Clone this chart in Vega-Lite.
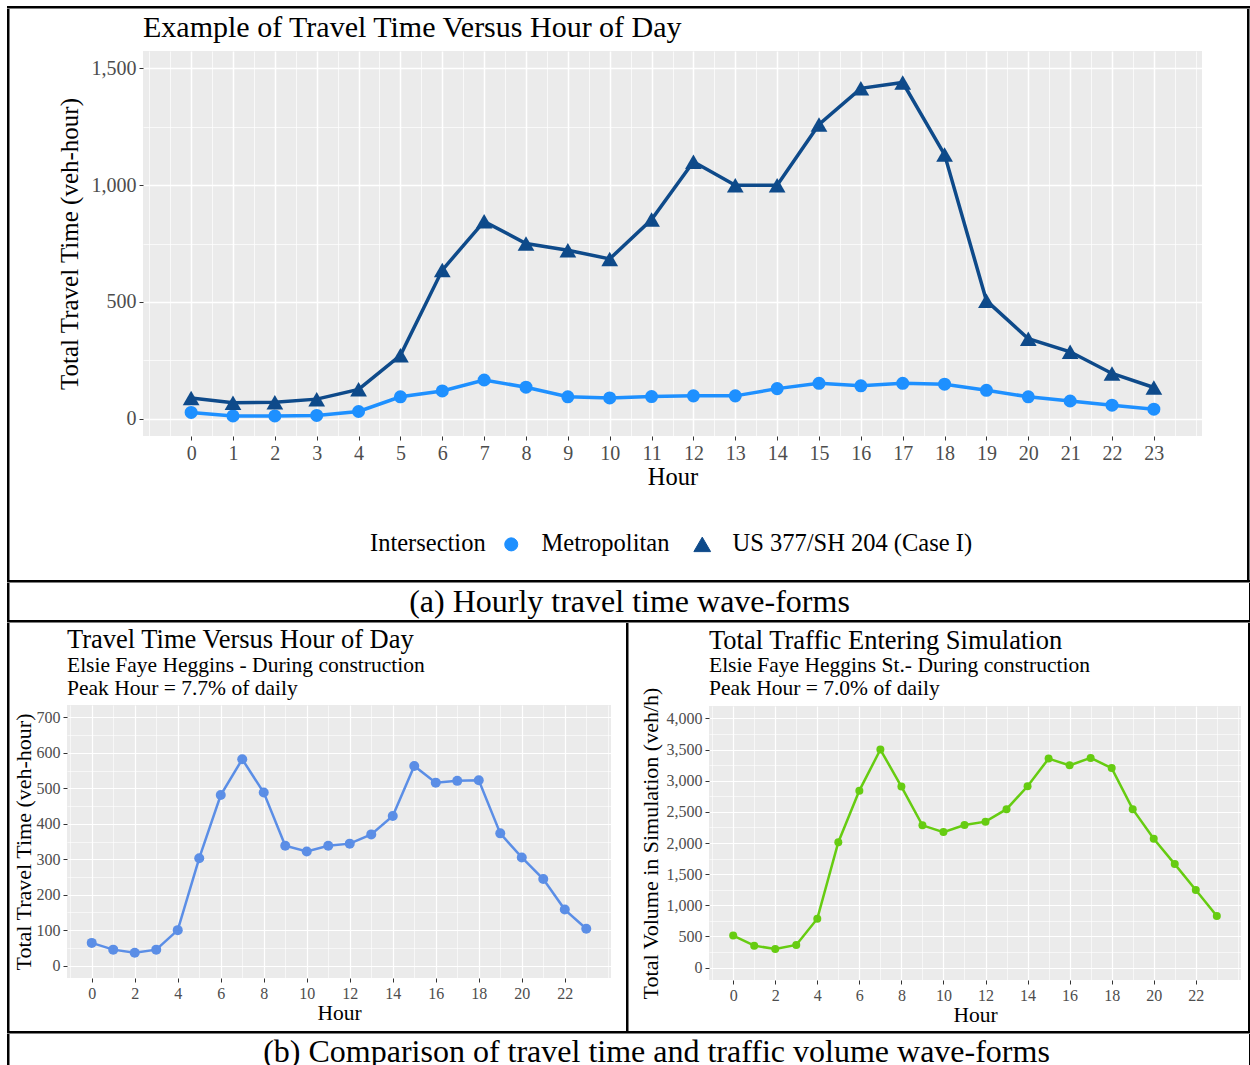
{
  "$schema": "https://vega.github.io/schema/vega-lite/v6.json",
  "padding": {"left": 7, "top": 6, "right": 0, "bottom": 0},
  "autosize": {"type": "pad"},
  "background": "white",
  "spacing": 0,
  "config": {
    "font": "Liberation Serif",
    "view": {"fill": "#EBEBEB", "stroke": null},
    "axis": {"domain": false, "gridColor": "white", "labelColor": "#4D4D4D", "tickColor": "#333333", "titleColor": "black", "titleFontWeight": "normal", "labelFont": "Liberation Serif", "titleFont": "Liberation Serif", "tickSize": 4, "labelOverlap": false, "labelFlush": false, "labelBound": false},
    "title": {"font": "Liberation Serif", "fontWeight": "normal", "color": "black", "subtitleColor": "black", "subtitleFont": "Liberation Serif", "anchor": "start", "frame": "group"},
    "concat": {"spacing": 0}
  },
  "datasets": {
    "blank": [],
    "top": [
      {"hour": 0, "tt": 26, "intersection": "Metropolitan"},
      {"hour": 1, "tt": 11, "intersection": "Metropolitan"},
      {"hour": 2, "tt": 11, "intersection": "Metropolitan"},
      {"hour": 3, "tt": 13, "intersection": "Metropolitan"},
      {"hour": 4, "tt": 30, "intersection": "Metropolitan"},
      {"hour": 5, "tt": 93, "intersection": "Metropolitan"},
      {"hour": 6, "tt": 118, "intersection": "Metropolitan"},
      {"hour": 7, "tt": 165, "intersection": "Metropolitan"},
      {"hour": 8, "tt": 134, "intersection": "Metropolitan"},
      {"hour": 9, "tt": 93, "intersection": "Metropolitan"},
      {"hour": 10, "tt": 88, "intersection": "Metropolitan"},
      {"hour": 11, "tt": 94, "intersection": "Metropolitan"},
      {"hour": 12, "tt": 97, "intersection": "Metropolitan"},
      {"hour": 13, "tt": 97, "intersection": "Metropolitan"},
      {"hour": 14, "tt": 128, "intersection": "Metropolitan"},
      {"hour": 15, "tt": 151, "intersection": "Metropolitan"},
      {"hour": 16, "tt": 140, "intersection": "Metropolitan"},
      {"hour": 17, "tt": 151, "intersection": "Metropolitan"},
      {"hour": 18, "tt": 147, "intersection": "Metropolitan"},
      {"hour": 19, "tt": 121, "intersection": "Metropolitan"},
      {"hour": 20, "tt": 93, "intersection": "Metropolitan"},
      {"hour": 21, "tt": 75, "intersection": "Metropolitan"},
      {"hour": 22, "tt": 57, "intersection": "Metropolitan"},
      {"hour": 23, "tt": 40, "intersection": "Metropolitan"},
      {"hour": 0, "tt": 88, "intersection": "US 377/SH 204 (Case I)"},
      {"hour": 1, "tt": 68, "intersection": "US 377/SH 204 (Case I)"},
      {"hour": 2, "tt": 70, "intersection": "US 377/SH 204 (Case I)"},
      {"hour": 3, "tt": 83, "intersection": "US 377/SH 204 (Case I)"},
      {"hour": 4, "tt": 125, "intersection": "US 377/SH 204 (Case I)"},
      {"hour": 5, "tt": 271, "intersection": "US 377/SH 204 (Case I)"},
      {"hour": 6, "tt": 636, "intersection": "US 377/SH 204 (Case I)"},
      {"hour": 7, "tt": 845, "intersection": "US 377/SH 204 (Case I)"},
      {"hour": 8, "tt": 750, "intersection": "US 377/SH 204 (Case I)"},
      {"hour": 9, "tt": 721, "intersection": "US 377/SH 204 (Case I)"},
      {"hour": 10, "tt": 684, "intersection": "US 377/SH 204 (Case I)"},
      {"hour": 11, "tt": 853, "intersection": "US 377/SH 204 (Case I)"},
      {"hour": 12, "tt": 1100, "intersection": "US 377/SH 204 (Case I)"},
      {"hour": 13, "tt": 1000, "intersection": "US 377/SH 204 (Case I)"},
      {"hour": 14, "tt": 1000, "intersection": "US 377/SH 204 (Case I)"},
      {"hour": 15, "tt": 1260, "intersection": "US 377/SH 204 (Case I)"},
      {"hour": 16, "tt": 1415, "intersection": "US 377/SH 204 (Case I)"},
      {"hour": 17, "tt": 1440, "intersection": "US 377/SH 204 (Case I)"},
      {"hour": 18, "tt": 1131, "intersection": "US 377/SH 204 (Case I)"},
      {"hour": 19, "tt": 505, "intersection": "US 377/SH 204 (Case I)"},
      {"hour": 20, "tt": 342, "intersection": "US 377/SH 204 (Case I)"},
      {"hour": 21, "tt": 286, "intersection": "US 377/SH 204 (Case I)"},
      {"hour": 22, "tt": 193, "intersection": "US 377/SH 204 (Case I)"},
      {"hour": 23, "tt": 133, "intersection": "US 377/SH 204 (Case I)"}
    ],
    "elsie_tt": [
      {"hour": 0, "value": 64}, {"hour": 1, "value": 45}, {"hour": 2, "value": 36}, {"hour": 3, "value": 45},
      {"hour": 4, "value": 100}, {"hour": 5, "value": 303}, {"hour": 6, "value": 481}, {"hour": 7, "value": 582},
      {"hour": 8, "value": 488}, {"hour": 9, "value": 338}, {"hour": 10, "value": 322}, {"hour": 11, "value": 338},
      {"hour": 12, "value": 344}, {"hour": 13, "value": 370}, {"hour": 14, "value": 422}, {"hour": 15, "value": 563},
      {"hour": 16, "value": 516}, {"hour": 17, "value": 521}, {"hour": 18, "value": 523}, {"hour": 19, "value": 373},
      {"hour": 20, "value": 305}, {"hour": 21, "value": 244}, {"hour": 22, "value": 158}, {"hour": 23, "value": 104}
    ],
    "elsie_vol": [
      {"hour": 0, "value": 514}, {"hour": 1, "value": 352}, {"hour": 2, "value": 298}, {"hour": 3, "value": 363},
      {"hour": 4, "value": 785}, {"hour": 5, "value": 2013}, {"hour": 6, "value": 2841}, {"hour": 7, "value": 3501},
      {"hour": 8, "value": 2906}, {"hour": 9, "value": 2284}, {"hour": 10, "value": 2175}, {"hour": 11, "value": 2289},
      {"hour": 12, "value": 2343}, {"hour": 13, "value": 2543}, {"hour": 14, "value": 2911}, {"hour": 15, "value": 3355},
      {"hour": 16, "value": 3247}, {"hour": 17, "value": 3366}, {"hour": 18, "value": 3203}, {"hour": 19, "value": 2543},
      {"hour": 20, "value": 2067}, {"hour": 21, "value": 1661}, {"hour": 22, "value": 1245}, {"hour": 23, "value": 828}
    ]
  },
  "vconcat": [
    {"width": 1241, "height": 0.5, "data": {"name": "blank"}, "mark": {"type": "text", "text": ""}, "view": {"fill": null, "stroke": "black", "strokeWidth": 2}},
    {
      "hconcat": [
        {"width": 0.5, "height": 569, "data": {"name": "blank"}, "mark": {"type": "text", "text": ""}, "view": {"fill": null, "stroke": "black", "strokeWidth": 2}},
        {"width": 47, "height": 0.5, "data": {"name": "blank"}, "mark": {"type": "text", "text": ""}, "view": {"fill": null, "stroke": null}},
        {
          "resolve": {"scale": {"color": "independent", "shape": "independent", "size": "independent"}, "legend": {"color": "independent", "shape": "independent", "size": "independent"}},
          "vconcat": [
            {"width": 10, "height": 3, "data": {"name": "blank"}, "mark": {"type": "text", "text": ""}, "view": {"fill": null, "stroke": null}},
            {
              "width": 1059, "height": 385,
              "data": {"name": "top"},
              "title": {"text": "Example of Travel Time Versus Hour of Day", "fontSize": 30, "offset": 8},
              "encoding": {
                "x": {"field": "hour", "type": "quantitative", "scale": {"domain": [-1.15, 24.15], "nice": false, "zero": false},
                  "axis": {
                    "values": [-1, -0.5, 0, 0.5, 1, 1.5, 2, 2.5, 3, 3.5, 4, 4.5, 5, 5.5, 6, 6.5, 7, 7.5, 8, 8.5, 9, 9.5, 10, 10.5, 11, 11.5, 12, 12.5, 13, 13.5, 14, 14.5, 15, 15.5, 16, 16.5, 17, 17.5, 18, 18.5, 19, 19.5, 20, 20.5, 21, 21.5, 22, 22.5, 23, 23.5, 24],
                    "title": "Hour", "titleFontSize": 24.5, "titlePadding": 2, "labelFontSize": 20, "labelPadding": 3,
                    "labelExpr": "(datum.value % 1 === 0 && datum.value >= 0 && datum.value <= 23) ? '' + datum.value : ''",
                    "tickOpacity": {"condition": {"test": "datum.value % 1 !== 0 || datum.value < 0 || datum.value > 23", "value": 0}, "value": 1},
                    "gridWidth": {"condition": {"test": "datum.value % 1 !== 0 || datum.value < 0 || datum.value > 23", "value": 0.7}, "value": 1.5}
                  }},
                "y": {"field": "tt", "type": "quantitative", "scale": {"domain": [-75, 1575], "nice": false, "zero": false},
                  "axis": {
                    "values": [0, 250, 500, 750, 1000, 1250, 1500],
                    "title": "Total Travel Time (veh-hour)", "titleFontSize": 25, "titlePadding": 9, "labelFontSize": 20, "labelPadding": 3,
                    "labelExpr": "datum.value % 500 === 0 ? format(datum.value, ',') : ''",
                    "tickOpacity": {"condition": {"test": "datum.value % 500 !== 0", "value": 0}, "value": 1},
                    "gridWidth": {"condition": {"test": "datum.value % 500 !== 0", "value": 0.7}, "value": 1.5}
                  }},
                "color": {"field": "intersection", "type": "nominal",
                  "scale": {"domain": ["Metropolitan", "US 377/SH 204 (Case I)"], "range": ["#1E90FF", "#0E4A8A"]},
                  "legend": {
                    "orient": "none", "legendX": 227, "legendY": 481, "direction": "horizontal",
                    "title": "Intersection", "titleOrient": "left", "titleFontSize": 24.5, "titleFont": "Liberation Serif", "titleFontWeight": "normal", "titleColor": "black", "titlePadding": 13,
                    "labelFontSize": 24.5, "labelFont": "Liberation Serif", "labelColor": "black", "labelOffset": 18, "labelLimit": 400,
                    "symbolSize": 576, "columnPadding": 20, "symbolStrokeWidth": 1, "symbolOpacity": 1,
                    "encode": {"symbols": {"update": {
                      "shape": {"value": {"expr": "datum.value === 'Metropolitan' ? 'M-1,-0.13L1,-0.13L1,0.13L-1,0.13ZM0.45,0A0.45,0.45 0 1,1 -0.45,0A0.45,0.45 0 1,1 0.45,0Z' : 'M-1,-0.13L1,-0.13L1,0.13L-1,0.13ZM0,-0.55L0.55,0.4L-0.55,0.4Z'"}},
                      "fill": {"value": {"expr": "datum.value === 'Metropolitan' ? '#1E90FF' : '#0E4A8A'"}},
                      "stroke": {"value": {"expr": "datum.value === 'Metropolitan' ? '#1E90FF' : '#0E4A8A'"}},
                      "strokeWidth": {"value": 1},
                      "opacity": {"value": 1}
                    }}}
                  }}
              },
              "layer": [
                {"mark": {"type": "line", "strokeWidth": 3.5}},
                {"mark": {"type": "point", "filled": true, "opacity": 1},
                 "encoding": {
                   "shape": {"field": "intersection", "type": "nominal", "scale": {"domain": ["Metropolitan", "US 377/SH 204 (Case I)"], "range": ["circle", "triangle-up"]}, "legend": null},
                   "size": {"field": "intersection", "type": "nominal", "scale": {"domain": ["Metropolitan", "US 377/SH 204 (Case I)"], "range": [170, 280]}, "legend": null}
                 }}
              ]
            }
          ]
        },
        {"width": 45, "height": 0.5, "data": {"name": "blank"}, "mark": {"type": "text", "text": ""}, "view": {"fill": null, "stroke": null}},
        {"width": 0.5, "height": 569, "data": {"name": "blank"}, "mark": {"type": "text", "text": ""}, "view": {"fill": null, "stroke": "black", "strokeWidth": 2}}
      ]
    },
    {"width": 1241, "height": 0.5, "data": {"name": "blank"}, "mark": {"type": "text", "text": ""}, "view": {"fill": null, "stroke": "black", "strokeWidth": 2}},
    {
      "hconcat": [
        {"width": 0.5, "height": 35, "data": {"name": "blank"}, "mark": {"type": "text", "text": ""}, "view": {"fill": null, "stroke": "black", "strokeWidth": 2}},
        {"width": 1239, "height": 35, "data": {"values": [{"caption": "(a) Hourly travel time wave-forms"}]}, "mark": {"type": "text", "fontSize": 32, "font": "Liberation Serif", "color": "black", "align": "center", "baseline": "middle"}, "encoding": {"text": {"field": "caption"}}, "view": {"fill": null, "stroke": null}},
        {"width": 0.5, "height": 35, "data": {"name": "blank"}, "mark": {"type": "text", "text": ""}, "view": {"fill": null, "stroke": "black", "strokeWidth": 2}}
      ]
    },
    {"width": 1241, "height": 0.5, "data": {"name": "blank"}, "mark": {"type": "text", "text": ""}, "view": {"fill": null, "stroke": "black", "strokeWidth": 2}},
    {
      "hconcat": [
        {"width": 0.5, "height": 406, "data": {"name": "blank"}, "mark": {"type": "text", "text": ""}, "view": {"fill": null, "stroke": "black", "strokeWidth": 2}},
        {"width": 1, "height": 0.5, "data": {"name": "blank"}, "mark": {"type": "text", "text": ""}, "view": {"fill": null, "stroke": null}},
        {
          "vconcat": [
            {"width": 10, "height": 3, "data": {"name": "blank"}, "mark": {"type": "text", "text": ""}, "view": {"fill": null, "stroke": null}},
            {
              "width": 544, "height": 273,
              "data": {"name": "elsie_tt"},
              "title": {"text": "Travel Time Versus Hour of Day", "subtitle": ["Elsie Faye Heggins - During construction", "Peak Hour = 7.7% of daily"], "fontSize": 26.5, "subtitleFontSize": 21.5, "subtitleLineHeight": 23, "offset": 6, "subtitlePadding": 1},
              "encoding": {
                "x": {"field": "hour", "type": "quantitative", "scale": {"domain": [-1.15, 24.15], "nice": false, "zero": false},
                  "axis": {
                    "values": [-1, 0, 1, 2, 3, 4, 5, 6, 7, 8, 9, 10, 11, 12, 13, 14, 15, 16, 17, 18, 19, 20, 21, 22, 23, 24],
                    "title": "Hour", "titleFontSize": 21.5, "titlePadding": 1, "labelFontSize": 16, "labelPadding": 3,
                    "labelExpr": "(datum.value % 2 === 0 && datum.value >= 0 && datum.value <= 22) ? '' + datum.value : ''",
                    "tickOpacity": {"condition": {"test": "datum.value % 2 !== 0 || datum.value < 0 || datum.value > 22", "value": 0}, "value": 1},
                    "gridWidth": {"condition": {"test": "datum.value % 2 !== 0 || datum.value < 0 || datum.value > 22", "value": 0.6}, "value": 1.2}
                  }},
                "y": {"field": "value", "type": "quantitative", "scale": {"domain": [-35, 735], "nice": false, "zero": false},
                  "axis": {
                    "values": [0, 50, 100, 150, 200, 250, 300, 350, 400, 450, 500, 550, 600, 650, 700],
                    "title": "Total Travel Time (veh-hour)", "titleFontSize": 22, "titlePadding": 1, "labelFontSize": 16, "labelPadding": 3,
                    "labelExpr": "datum.value % 100 === 0 ? '' + datum.value : ''",
                    "tickOpacity": {"condition": {"test": "datum.value % 100 !== 0", "value": 0}, "value": 1},
                    "gridWidth": {"condition": {"test": "datum.value % 100 !== 0", "value": 0.6}, "value": 1.2}
                  }}
              },
              "layer": [
                {"mark": {"type": "line", "color": "#5B8EE6", "strokeWidth": 2.5}},
                {"mark": {"type": "point", "filled": true, "opacity": 1, "color": "#5B8EE6", "size": 100}}
              ]
            }
          ]
        },
        {"width": 15, "height": 0.5, "data": {"name": "blank"}, "mark": {"type": "text", "text": ""}, "view": {"fill": null, "stroke": null}},
        {"width": 0.5, "height": 406, "data": {"name": "blank"}, "mark": {"type": "text", "text": ""}, "view": {"fill": null, "stroke": "black", "strokeWidth": 2}},
        {"width": 9, "height": 0.5, "data": {"name": "blank"}, "mark": {"type": "text", "text": ""}, "view": {"fill": null, "stroke": null}},
        {
          "vconcat": [
            {"width": 10, "height": 3, "data": {"name": "blank"}, "mark": {"type": "text", "text": ""}, "view": {"fill": null, "stroke": null}},
            {
              "width": 532, "height": 274,
              "data": {"name": "elsie_vol"},
              "title": {"text": "Total Traffic Entering Simulation", "subtitle": ["Elsie Faye Heggins St.- During construction", "Peak Hour = 7.0% of daily"], "fontSize": 26.5, "subtitleFontSize": 21.5, "subtitleLineHeight": 23, "offset": -13, "subtitlePadding": 1},
              "encoding": {
                "x": {"field": "hour", "type": "quantitative", "scale": {"domain": [-1.15, 24.15], "nice": false, "zero": false},
                  "axis": {
                    "values": [-1, 0, 1, 2, 3, 4, 5, 6, 7, 8, 9, 10, 11, 12, 13, 14, 15, 16, 17, 18, 19, 20, 21, 22, 23, 24],
                    "title": "Hour", "titleFontSize": 21.5, "titlePadding": 1, "labelFontSize": 16, "labelPadding": 3,
                    "labelExpr": "(datum.value % 2 === 0 && datum.value >= 0 && datum.value <= 22) ? '' + datum.value : ''",
                    "tickOpacity": {"condition": {"test": "datum.value % 2 !== 0 || datum.value < 0 || datum.value > 22", "value": 0}, "value": 1},
                    "gridWidth": {"condition": {"test": "datum.value % 2 !== 0 || datum.value < 0 || datum.value > 22", "value": 0.6}, "value": 1.2}
                  }},
                "y": {"field": "value", "type": "quantitative", "scale": {"domain": [-200, 4200], "nice": false, "zero": false},
                  "axis": {
                    "values": [0, 250, 500, 750, 1000, 1250, 1500, 1750, 2000, 2250, 2500, 2750, 3000, 3250, 3500, 3750, 4000],
                    "title": "Total Volume in Simulation (veh/h)", "titleFontSize": 22, "titlePadding": 4, "labelFontSize": 16, "labelPadding": 3,
                    "labelExpr": "datum.value % 500 === 0 ? format(datum.value, ',') : ''",
                    "tickOpacity": {"condition": {"test": "datum.value % 500 !== 0", "value": 0}, "value": 1},
                    "gridWidth": {"condition": {"test": "datum.value % 500 !== 0", "value": 0.6}, "value": 1.2}
                  }}
              },
              "layer": [
                {"mark": {"type": "line", "color": "#66CC11", "strokeWidth": 2.5}},
                {"mark": {"type": "point", "filled": true, "opacity": 1, "color": "#66CC11", "size": 64}}
              ]
            }
          ]
        },
        {"width": 7, "height": 0.5, "data": {"name": "blank"}, "mark": {"type": "text", "text": ""}, "view": {"fill": null, "stroke": null}},
        {"width": 0.5, "height": 406, "data": {"name": "blank"}, "mark": {"type": "text", "text": ""}, "view": {"fill": null, "stroke": "black", "strokeWidth": 2}}
      ]
    },
    {"width": 1241, "height": 0.5, "data": {"name": "blank"}, "mark": {"type": "text", "text": ""}, "view": {"fill": null, "stroke": "black", "strokeWidth": 2}},
    {
      "hconcat": [
        {"width": 0.5, "height": 34, "data": {"name": "blank"}, "mark": {"type": "text", "text": ""}, "view": {"fill": null, "stroke": "black", "strokeWidth": 2}},
        {"width": 1239, "height": 34, "data": {"values": [{"caption": "(b) Comparison of travel time and traffic volume wave-forms"}]}, "mark": {"type": "text", "fontSize": 32, "font": "Liberation Serif", "color": "black", "align": "center", "baseline": "middle", "dx": 27}, "encoding": {"text": {"field": "caption"}}, "view": {"fill": null, "stroke": null}},
        {"width": 0.5, "height": 34, "data": {"name": "blank"}, "mark": {"type": "text", "text": ""}, "view": {"fill": null, "stroke": "black", "strokeWidth": 2}}
      ]
    }
  ]
}
